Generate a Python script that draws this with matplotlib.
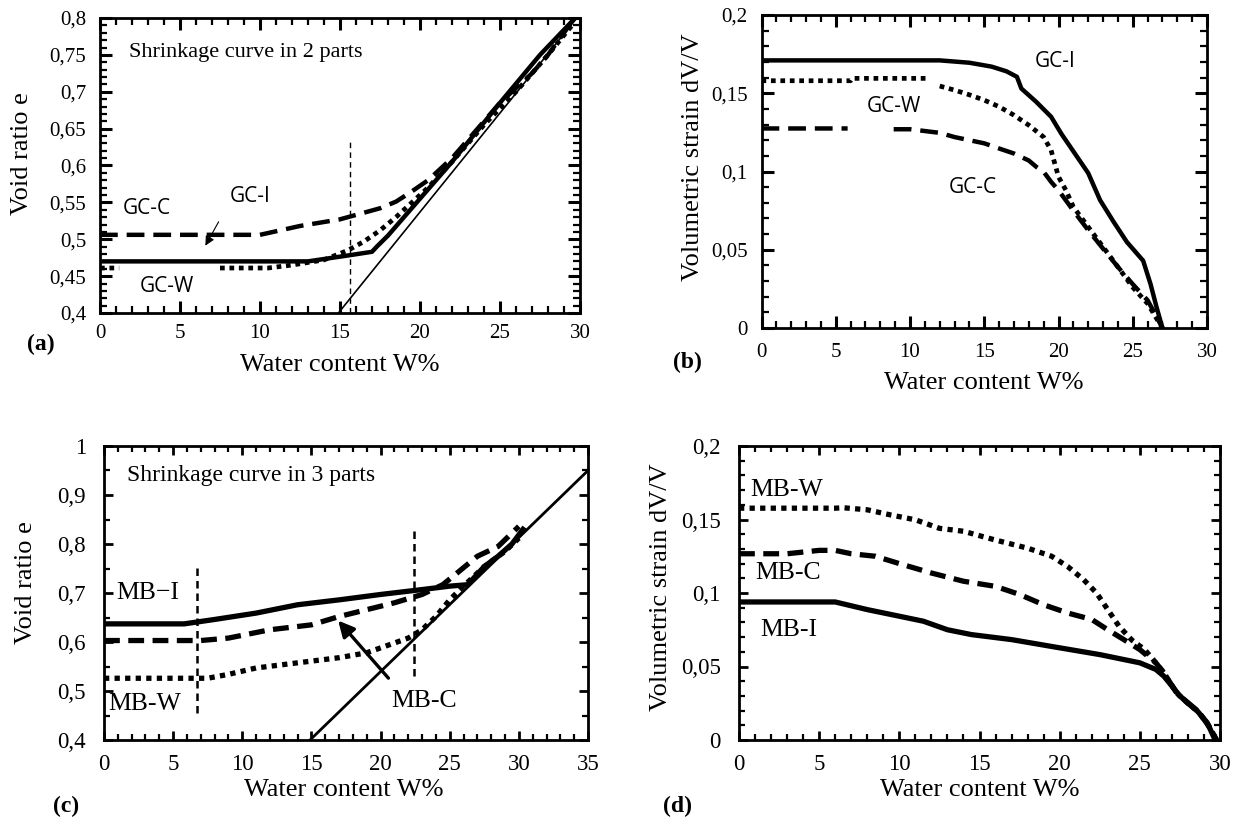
import numpy as np
import matplotlib
matplotlib.use('Agg')
import matplotlib.pyplot as plt
from matplotlib.ticker import MultipleLocator, FuncFormatter

plt.rcParams['font.family'] = 'Liberation Serif'

# ---- panel (a): void ratio, shrinkage curve in 2 parts
a_sat_w = [14.9, 29.8]
a_sat_e = [0.4, 0.8]
a_vline_w = 15.6
a_vline_e = [0.4, 0.633]

a_gci_w = [0, 13, 15.5, 17, 17.3, 18, 20, 22, 25, 27.5, 29.7]
a_gci_e = [0.47, 0.47, 0.478, 0.483, 0.49, 0.505, 0.555, 0.605, 0.685, 0.75, 0.8]

a_gcc_w = [0, 10, 12.5, 15, 16, 17.5, 18.5, 19.5, 20.5, 22, 23, 25, 27, 28, 29.5]
a_gcc_e = [0.506, 0.506, 0.518, 0.527, 0.533, 0.542, 0.551, 0.565, 0.58, 0.61, 0.635, 0.685, 0.725, 0.75, 0.795]

a_gcw_w = [0, 1.2, np.nan, 7.5, 10.5, 12, 14, 15.5, 16.5, 17.5, 18.5, 19.5, 20.5, 22, 24, 26, 28, 29.5]
a_gcw_e = [0.461, 0.461, np.nan, 0.461, 0.461, 0.465, 0.472, 0.485, 0.497, 0.512, 0.53, 0.55, 0.57, 0.605, 0.655, 0.7, 0.75, 0.79]

# ---- panel (b): volumetric strain, GC
b_gci_w = [0, 12, 14, 15.5, 16.5, 17.2, 17.5, 18.5, 19.5, 20.2, 22, 22.8, 23.7, 24.6, 25.7, 26.2, 26.6, 27.0]
b_gci_v = [0.171, 0.171, 0.1695, 0.167, 0.164, 0.1605, 0.153, 0.1445, 0.135, 0.124, 0.099, 0.0817, 0.068, 0.055, 0.043, 0.028, 0.0134, 0.0]

b_gcw_w = [0, 6, 6.1, 9.5, 11.3, np.nan, 12, 13, 14, 15, 16, 17, 18, 19, 19.5, 20, 20.5, 21, 22, 23, 24, 25, 26, 26.8, 27]
b_gcw_v = [0.158, 0.158, 0.1595, 0.1595, 0.1595, np.nan, 0.1546, 0.152, 0.149, 0.1456, 0.1414, 0.136, 0.1296, 0.122, 0.1136,
           0.0966, 0.088, 0.0774, 0.0646, 0.0518, 0.039, 0.026, 0.0156, 0.003, 0.0]

b_gcc_w = [0, 5.8, np.nan, 8.9, 10, 12, 13, 14, 15, 16, 17, 18, 18.5, 19, 19.5, 20, 21, 22, 23, 24, 25, 26, 26.5, 27]
b_gcc_v = [0.1275, 0.1275, np.nan, 0.127, 0.127, 0.1247, 0.122, 0.12, 0.118, 0.1147, 0.1115, 0.107, 0.103, 0.0998, 0.0934,
           0.088, 0.075, 0.0625, 0.0507, 0.039, 0.028, 0.0177, 0.009, 0.0]

# ---- panel (c): void ratio, shrinkage curve in 3 parts
c_sat_w = [14.9, 35]
c_sat_e = [0.4, 0.95]
c_vline1_w = 6.7
c_vline1_e = [0.456, 0.751]
c_vline2_w = 22.4
c_vline2_e = [0.53, 0.826]

c_mbi_w = [0, 5.8, 8, 11, 14, 17, 20, 23, 25, 26.3, 27.5, 28.5, 29.5, 30.3]
c_mbi_e = [0.637, 0.637, 0.646, 0.659, 0.676, 0.686, 0.697, 0.707, 0.714, 0.717, 0.754, 0.775, 0.8, 0.83]

c_mbc_w = [0, 7, 9, 12, 15, 17, 19, 21, 23, 24.5, 25.5, 27, 28.5, 30]
c_mbc_e = [0.603, 0.603, 0.608, 0.625, 0.635, 0.652, 0.666, 0.68, 0.697, 0.717, 0.74, 0.775, 0.795, 0.836]

c_mbw_w = [0, 7.5, 9, 11, 13, 15, 17, 19, 20, 21, 22, 23, 24, 25, 26, 27.5, 29, 30]
c_mbw_e = [0.526, 0.526, 0.534, 0.547, 0.554, 0.561, 0.568, 0.578, 0.588, 0.598, 0.608, 0.625, 0.652, 0.686, 0.714, 0.754, 0.785, 0.812]

# ---- panel (d): volumetric strain, MB
d_mbw_w = [0, 6, 6.5, 8, 9.5, 11, 12.5, 14, 16, 18, 19.5, 20.5, 21.5, 22.3, 23, 23.7, 24.5, 25.3, 26, 26.5, 27.3, 28, 28.7, 29.3, 29.8]
d_mbw_v = [0.1577, 0.1577, 0.158, 0.1566, 0.153, 0.1498, 0.144, 0.142, 0.136, 0.1305, 0.125, 0.118, 0.109, 0.1, 0.0887,
           0.0774, 0.068, 0.0615, 0.0525, 0.0457, 0.032, 0.025, 0.0186, 0.0095, 0.0]

d_mbc_w = [0, 3, 5, 6, 7, 8.5, 10, 12, 14, 16, 17.5, 19, 20.5, 22, 23, 24, 25, 26, 26.5, 27.3, 28, 28.7, 29.3, 29.8]
d_mbc_v = [0.1267, 0.1267, 0.129, 0.129, 0.1267, 0.125, 0.12, 0.1136, 0.108, 0.1045, 0.099, 0.092, 0.0864, 0.082, 0.075,
           0.0683, 0.0615, 0.0525, 0.0457, 0.032, 0.025, 0.0186, 0.0095, 0.0]

d_mbi_w = [0, 6, 8, 10, 11.5, 13, 14.5, 17, 20, 22.5, 25, 26, 26.5, 27, 27.5, 28.5, 29.2, 29.7]
d_mbi_v = [0.0939, 0.0939, 0.0887, 0.0842, 0.0808, 0.075, 0.0717, 0.0683, 0.0627, 0.0581, 0.0525, 0.048, 0.0434, 0.0367,
           0.0299, 0.0208, 0.0118, 0.0]

W, H = 1239, 818
fig = plt.figure(figsize=(W / 100, H / 100), dpi=100)


def make_ax(l, r, t, b):
    return fig.add_axes([l / W, 1 - b / H, (r - l) / W, (b - t) / H])


def comma(v, pos):
    return f'{v:g}'.replace('.', ',')


def style(ax, xmax, ymin, ymax, xmaj, xmin_, ymaj, ymin_, fs, xpad, ypad, big):
    ax.set_xlim(0, xmax)
    ax.set_ylim(ymin, ymax)
    ax.xaxis.set_major_locator(MultipleLocator(xmaj))
    ax.xaxis.set_minor_locator(MultipleLocator(xmin_))
    ax.yaxis.set_major_locator(MultipleLocator(ymaj))
    ax.yaxis.set_minor_locator(MultipleLocator(ymin_))
    ax.xaxis.set_major_formatter(FuncFormatter(comma))
    ax.yaxis.set_major_formatter(FuncFormatter(comma))
    ax.tick_params(which='both', direction='in', top=True, right=True, labelsize=fs)
    if big:
        ax.tick_params(which='major', length=8.5, width=2.2)
        ax.tick_params(which='minor', length=5, width=1.6)
    else:
        ax.tick_params(which='major', length=6.5, width=2)
        ax.tick_params(which='minor', length=4, width=1.6)
    ax.tick_params(axis='x', which='major', pad=xpad)
    ax.tick_params(axis='y', which='major', pad=ypad)
    for s in ax.spines.values():
        s.set_linewidth(2)


def labels(ax, xl, yl, xc, yc, fs=19):
    ax.set_xlabel(xl, fontsize=fs)
    ax.set_ylabel(yl, fontsize=fs)
    ax.xaxis.label.set_va('center')
    ax.yaxis.label.set_va('center')
    ax.xaxis.set_label_coords(*xc)
    ax.yaxis.set_label_coords(*yc)


k = 'black'
dash_gc = (0, (4, 2))
dash = (0, (3, 1.6))
dot = (0, (1, 1))

# (a)
ax = make_ax(100, 580, 18, 313)
style(ax, 30, 0.4, 0.8, 5, 1, 0.05, 0.01, 15, 8, 10, True)
ax.plot(a_sat_w, a_sat_e, color=k, lw=1.2)
ax.plot([a_vline_w, a_vline_w], a_vline_e, color=k, lw=1, ls=(0, (4, 3)))
ax.plot(a_gcc_w, a_gcc_e, color=k, lw=3.2, ls=dash_gc)
ax.plot(a_gcw_w, a_gcw_e, color=k, lw=3.4, ls=dot)
ax.plot(a_gci_w, a_gci_e, color=k, lw=3.2)
ax.text(1.8, 0.753, 'Shrinkage curve in 2 parts', fontsize=16, va='center')
ax.text(1.4, 0.542, 'GC-C', fontsize=15, family='Open Sans', va='center')
ax.text(8.1, 0.558, 'GC-I', fontsize=15, family='Open Sans', va='center')
ax.text(2.5, 0.436, 'GC-W', fontsize=15, family='Open Sans', va='center')
ax.annotate('', xy=(6.5, 0.488), xytext=(7.5, 0.527),
            arrowprops=dict(arrowstyle='-|>', color=k, lw=0.8, mutation_scale=14))
labels(ax, 'Water content W%', 'Void ratio e', (0.5, -0.176), (-0.1625, 0.542))
fig.text(27 / W, 1 - 344 / H, '(a)', fontsize=17, fontweight='bold', va='center')

# (b)
ax = make_ax(761.5, 1207, 15, 328)
style(ax, 30, 0, 0.2, 5, 1, 0.05, 0.01, 15, 11, 10, True)
ax.plot(b_gcc_w, b_gcc_v, color=k, lw=3.2, ls=dash_gc)
ax.plot(b_gcw_w, b_gcw_v, color=k, lw=3.4, ls=dot)
ax.plot(b_gci_w, b_gci_v, color=k, lw=3.2)
ax.text(18.4, 0.170, 'GC-I', fontsize=15, family='Open Sans', va='center')
ax.text(7.1, 0.1414, 'GC-W', fontsize=15, family='Open Sans', va='center')
ax.text(12.6, 0.090, 'GC-C', fontsize=15, family='Open Sans', va='center')
labels(ax, 'Water content W%', 'Volumetric strain dV/V', (0.4995, -0.176), (-0.154, 0.546))
fig.text(673 / W, 1 - 362 / H, '(b)', fontsize=17, fontweight='bold', va='center')

# (c)
ax = make_ax(104, 588, 446, 740)
style(ax, 35, 0.4, 1.0, 5, 1, 0.1, 0.05, 16.5, 10, 13, False)
ax.plot(c_sat_w, c_sat_e, color=k, lw=2)
ax.plot([c_vline1_w, c_vline1_w], c_vline1_e, color=k, lw=1.8, ls=(0, (3, 2)))
ax.plot([c_vline2_w, c_vline2_w], c_vline2_e, color=k, lw=1.8, ls=(0, (3, 2)))
ax.plot(c_mbw_w, c_mbw_e, color=k, lw=3.8, ls=dot)
ax.plot(c_mbc_w, c_mbc_e, color=k, lw=3.8, ls=dash)
ax.plot(c_mbi_w, c_mbi_e, color=k, lw=3.8)
ax.text(0.9, 0.70, 'MB\u2212I', fontsize=18.5, va='center')
ax.text(0.3, 0.473, 'MB-W', fontsize=18.5, va='center')
ax.text(20.8, 0.48, 'MB-C', fontsize=18.5, va='center')
ax.text(1.66, 0.939, 'Shrinkage curve in 3 parts', fontsize=17, va='center')
ax.annotate('', xy=(16.8, 0.648), xytext=(20.7, 0.522),
            arrowprops=dict(arrowstyle='-|>', color=k, lw=2.4, mutation_scale=24))
labels(ax, 'Water content W%', 'Void ratio e', (0.496, -0.170), (-0.161, 0.534))
fig.text(53 / W, 1 - 806 / H, '(c)', fontsize=17, fontweight='bold', va='center')

# (d)
ax = make_ax(739, 1220, 446, 740)
style(ax, 30, 0, 0.2, 5, 1, 0.05, 0.01, 16.5, 10, 13, False)
ax.plot(d_mbw_w, d_mbw_v, color=k, lw=3.8, ls=dot)
ax.plot(d_mbc_w, d_mbc_v, color=k, lw=3.8, ls=dash)
ax.plot(d_mbi_w, d_mbi_v, color=k, lw=3.8)
ax.text(0.7, 0.170, 'MB-W', fontsize=18.5, va='center')
ax.text(1.0, 0.1136, 'MB-C', fontsize=18.5, va='center')
ax.text(1.3, 0.075, 'MB-I', fontsize=18.5, va='center')
labels(ax, 'Water content W%', 'Volumetric strain dV/V', (0.501, -0.170), (-0.162, 0.52))
fig.text(663 / W, 1 - 806 / H, '(d)', fontsize=17, fontweight='bold', va='center')

fig.savefig('out.png', dpi=100)
